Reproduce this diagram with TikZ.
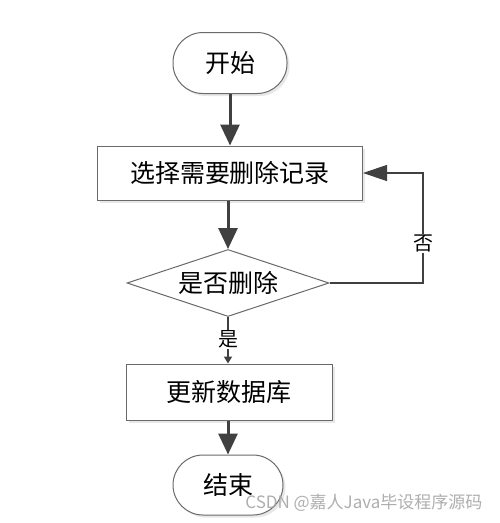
\documentclass[tikz,border=0pt]{standalone}
\usepackage{fontspec}
\newfontfamily\cjk{Noto Sans CJK SC}
\usetikzlibrary{arrows.meta,shapes.geometric,shadows}
\definecolor{ln}{HTML}{404040}
\definecolor{bd}{HTML}{6A6A6A}
\tikzset{
  shd/.style={drop shadow={shadow xshift=2.5pt,shadow yshift=-2.5pt,fill=black!15,opacity=0.6}},
  term/.style={draw=bd,line width=1pt,fill=white,rectangle,rounded corners=30pt,inner sep=0pt,font=\cjk\fontsize{25}{28}\selectfont,shd},
  procbox/.style={draw=bd,line width=1pt,fill=white,rectangle,inner sep=0pt,font=\cjk\fontsize{25}{28}\selectfont,shd},
  decide/.style={draw=bd,line width=1pt,fill=white,diamond,aspect=3,inner sep=0pt,font=\cjk\fontsize{25}{28}\selectfont},
  mainarrow/.style={draw=ln,line width=3pt,-{Triangle[length=21pt,width=19pt]}},
  looparrow/.style={draw=ln,line width=1.3pt,-{Triangle[length=24pt,width=16pt]}},
  smallarrow/.style={draw=ln,line width=2pt,-{Triangle[length=7pt,width=8pt]}},
  lbl/.style={fill=white,inner sep=1pt,text=black,font=\cjk\fontsize{20}{22}\selectfont},
}
\begin{document}
\begin{tikzpicture}[x=1pt,y=-1pt]
\fill[white] (0,0) rectangle (500,523);
\useasboundingbox (0,0) rectangle (500,523);
\node[term,minimum width=114pt,minimum height=61pt] (start) at (230,63) {开始};
\node[procbox,minimum width=265pt,minimum height=54pt] (sel) at (230,173) {选择需要删除记录};
\node[decide,minimum width=202pt,minimum height=67pt] (dec) at (228,283) {是否删除};
\node[procbox,minimum width=206pt,minimum height=56pt] (upd) at (229,392) {更新数据库};
\node[term,minimum width=110pt,minimum height=60pt] (stop) at (228,485) {结束};
\coordinate (loopc) at (423,283);
\draw[mainarrow] (start) -- (sel);
\draw[mainarrow] (sel.south -| dec.north) -- (dec.north);
\draw[looparrow] (dec.east) -- (loopc) |- node[pos=0.18,lbl]{否} (sel.east);
\draw[smallarrow] (dec.south) -- node[pos=0.48,lbl]{是} (upd.north -| dec.south);
\draw[mainarrow] (upd.south -| stop.north) -- (stop.north);
\node[font=\cjk\fontsize{17}{20}\selectfont,text=black!35,opacity=0.9,anchor=east] (wm) at (486,503) {CSDN @嘉人Java毕设程序源码};
\end{tikzpicture}
\end{document}
